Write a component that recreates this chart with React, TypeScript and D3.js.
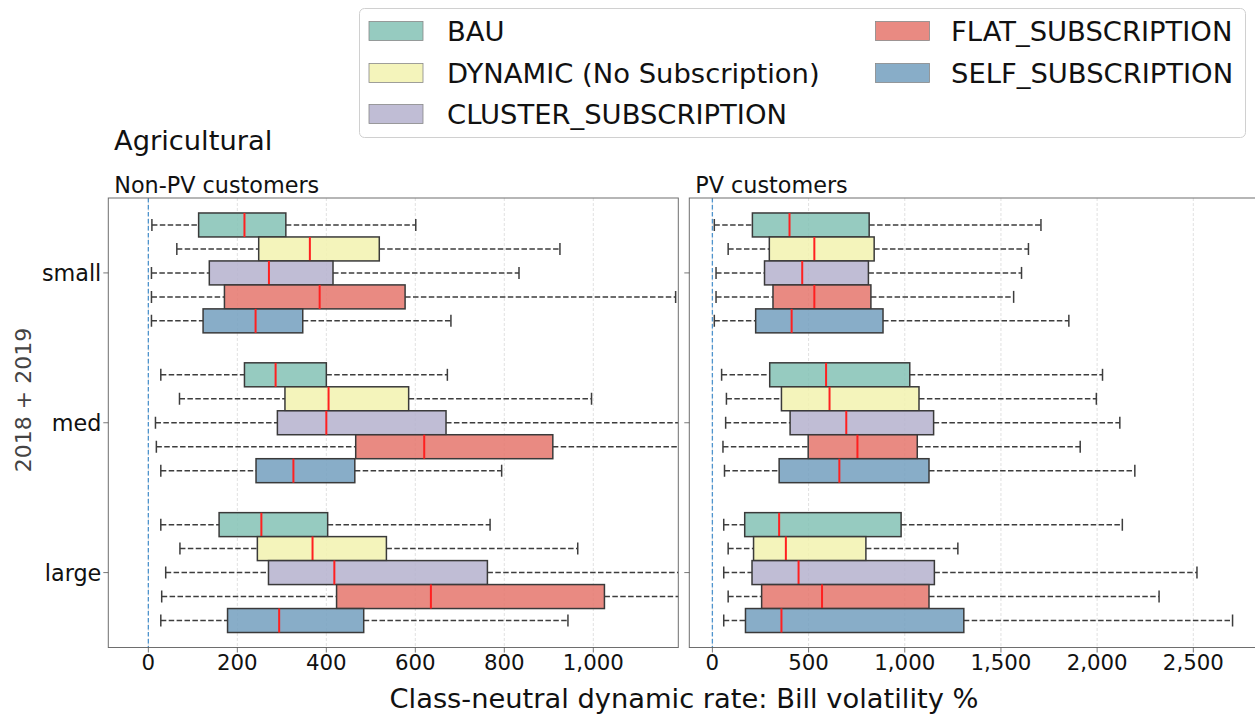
import React from "react";
import * as d3 from "d3";

// ---------- data ----------
const groups = ["small", "med", "large"];
const seriesNames = [
  "BAU",
  "DYNAMIC (No Subscription)",
  "CLUSTER_SUBSCRIPTION",
  "FLAT_SUBSCRIPTION",
  "SELF_SUBSCRIPTION",
];
const seriesColors = ["#84c2b5", "#f2f2af", "#b5b1ce", "#e5766c", "#739fbe"];

// [whisker low, q1, median, q3, whisker high] for small, med, large
const nonPvBAU = [[8, 113, 216, 309, 601], [28, 216, 286, 400, 672], [28, 159, 254, 403, 768]];
const nonPvDynamic = [[64, 248, 363, 519, 925], [70, 307, 405, 585, 996], [71, 245, 369, 535, 965]];
const nonPvCluster = [[7, 137, 271, 415, 833], [16, 290, 400, 669, 1250], [39, 270, 418, 762, 1250]];
const nonPvFlat = [[7, 171, 385, 577, 1185], [18, 466, 620, 909, 1300], [30, 423, 635, 1025, 1350]];
const nonPvSelf = [[7, 123, 241, 347, 680], [28, 242, 326, 464, 794], [28, 178, 294, 484, 943]];

const pvBAU = [[10, 208, 401, 815, 1708], [48, 298, 591, 1026, 2028], [59, 168, 347, 981, 2131]];
const pvDynamic = [[82, 296, 530, 841, 1643], [73, 359, 609, 1074, 1996], [82, 214, 382, 798, 1276]];
const pvCluster = [[19, 271, 467, 811, 1607], [69, 404, 696, 1150, 2118], [59, 206, 448, 1154, 2519]];
const pvFlat = [[19, 315, 530, 824, 1566], [55, 498, 754, 1065, 1912], [82, 256, 570, 1126, 2322]];
const pvSelf = [[10, 225, 412, 887, 1853], [63, 347, 660, 1126, 2196], [59, 172, 359, 1307, 2704]];

const nonPvTicks = [0, 200, 400, 600, 800, 1000];
const pvTicks = [0, 500, 1000, 1500, 2000, 2500];

const FONT = "DejaVu Sans, Verdana, sans-serif";

type PanelProps = {
  id: string;
  x0: number;
  x1: number;
  domain: [number, number];
  ticks: number[];
  data: number[][][];
  title: string;
  showYLabels: boolean;
};

const TOP = 198;
const BOTTOM = 647.5;

function Panel({ id, x0, x1, domain, ticks, data, title, showYLabels }: PanelProps) {
  const x = d3.scaleLinear().domain(domain).range([x0, x1]);
  const y = d3.scaleBand<string>().domain(groups).range([TOP, BOTTOM]).padding(0);
  const hue = d3
    .scaleBand<string>()
    .domain(seriesNames)
    .range([-y.bandwidth() * 0.4, y.bandwidth() * 0.4])
    .padding(0);
  const bh = hue.bandwidth();
  const fmt = d3.format(",");
  const clipId = `clip-${id}`;
  return (
    <g>
      <defs>
        <clipPath id={clipId}>
          <rect x={x0} y={TOP} width={x1 - x0} height={BOTTOM - TOP} />
        </clipPath>
      </defs>
      {/* grid */}
      {ticks.map((t) => (
        <line
          key={`g${t}`}
          x1={x(t)}
          x2={x(t)}
          y1={TOP}
          y2={BOTTOM}
          stroke="#d9d9d9"
          strokeWidth={0.8}
          strokeDasharray="3,2"
        />
      ))}
      {/* zero line */}
      <line x1={x(0)} x2={x(0)} y1={TOP} y2={BOTTOM} stroke="#4f94cd" strokeWidth={1.3} strokeDasharray="4.5,2.5" />
      <g clipPath={`url(#${clipId})`}>
        {seriesNames.map((s, si) =>
          groups.map((g, gi) => {
            const [lo, q1, med, q3, hi] = data[si][gi];
            const cy = (y(g) as number) + y.bandwidth() / 2 + (hue(s) as number) + bh / 2;
            return (
              <g key={`${s}-${g}`}>
                <line x1={x(lo)} x2={x(q1)} y1={cy} y2={cy} stroke="#3d3d3d" strokeWidth={1.5} strokeDasharray="5.5,2.4" />
                <line x1={x(q3)} x2={x(hi)} y1={cy} y2={cy} stroke="#3d3d3d" strokeWidth={1.5} strokeDasharray="5.5,2.4" />
                <line x1={x(lo)} x2={x(lo)} y1={cy - bh / 4} y2={cy + bh / 4} stroke="#3d3d3d" strokeWidth={1.5} />
                <line x1={x(hi)} x2={x(hi)} y1={cy - bh / 4} y2={cy + bh / 4} stroke="#3d3d3d" strokeWidth={1.5} />
                <rect
                  x={x(q1)}
                  y={cy - bh / 2}
                  width={x(q3) - x(q1)}
                  height={bh}
                  fill={seriesColors[si]}
                  fillOpacity={0.85}
                  stroke="#3a3a3a"
                  strokeWidth={1.5}
                />
                <line x1={x(med)} x2={x(med)} y1={cy - bh / 2} y2={cy + bh / 2} stroke="#ff2020" strokeWidth={2} />
              </g>
            );
          })
        )}
      </g>
      {/* frame */}
      <rect x={x0} y={TOP} width={x1 - x0} height={BOTTOM - TOP} fill="none" stroke="#6e6e6e" strokeWidth={1} />
      {/* x ticks */}
      {ticks.map((t) => (
        <g key={`t${t}`}>
          <line x1={x(t)} x2={x(t)} y1={BOTTOM} y2={BOTTOM + 5} stroke="#555" strokeWidth={0.8} />
          <text x={x(t)} y={669.5} textAnchor="middle" fontSize={21.3} fontFamily={FONT} fill="#111">
            {fmt(t)}
          </text>
        </g>
      ))}
      {/* y ticks */}
      {groups.map((g) => {
        const cy = (y(g) as number) + y.bandwidth() / 2;
        return (
          <g key={`y${g}`}>
            <line x1={x0 - 5} x2={x0} y1={cy} y2={cy} stroke="#555" strokeWidth={0.8} />
            {showYLabels && (
              <text x={x0 - 7} y={cy + 8} textAnchor="end" fontSize={22.3} fontFamily={FONT} fill="#111">
                {g}
              </text>
            )}
          </g>
        );
      })}
      <text x={x0 + 6} y={192.5} fontSize={22.3} fontFamily={FONT} fill="#111">
        {title}
      </text>
    </g>
  );
}

function Legend() {
  const rows = [31, 73, 114];
  const items = seriesNames.map((s, i) => ({
    s,
    i,
    col: i < 3 ? 0 : 1,
    row: i < 3 ? i : i - 3,
  }));
  const patchX = [369, 875.5];
  const textX = [447, 951];
  return (
    <g>
      <rect x={359.5} y={8.5} width={886} height={129} rx={5} fill="#fff" fillOpacity={0.8} stroke="#d0d0d0" strokeWidth={1} />
      {items.map((it) => (
        <g key={it.s}>
          <rect
            x={patchX[it.col]}
            y={rows[it.row] - 9.5}
            width={54}
            height={19}
            fill={seriesColors[it.i]}
            fillOpacity={0.85}
            stroke="#888"
            strokeWidth={0.8}
          />
          <text x={textX[it.col]} y={rows[it.row] + 9.8} fontSize={27.4} fontFamily={FONT} fill="#111">
            {it.s}
          </text>
        </g>
      ))}
    </g>
  );
}

export default function App() {
  const nonPvData = [nonPvBAU, nonPvDynamic, nonPvCluster, nonPvFlat, nonPvSelf];
  const pvData = [pvBAU, pvDynamic, pvCluster, pvFlat, pvSelf];
  return (
    <svg
      width={1255}
      height={715}
      style={{ position: "absolute", left: 0, top: 0, background: "#fff" }}
    >
      <rect x={0} y={0} width={1255} height={715} fill="#fff" />
      <Panel
        id="nonpv"
        x0={108.3}
        x1={678.3}
        domain={[-90, 1191]}
        ticks={nonPvTicks}
        data={nonPvData}
        title="Non-PV customers"
        showYLabels={true}
      />
      <Panel
        id="pv"
        x0={689.3}
        x1={1259.3}
        domain={[-120, 2843]}
        ticks={pvTicks}
        data={pvData}
        title="PV customers"
        showYLabels={false}
      />
      <text x={114} y={150} fontSize={27.3} fontFamily={FONT} fill="#111">
        Agricultural
      </text>
      <text
        transform="translate(31,400) rotate(-90)"
        textAnchor="middle"
        fontSize={22}
        fontFamily={FONT}
        fill="#444"
      >
        2018 + 2019
      </text>
      <text x={684} y={708} textAnchor="middle" fontSize={27.3} fontFamily={FONT} fill="#111">
        Class-neutral dynamic rate: Bill volatility %
      </text>
      <Legend />
    </svg>
  );
}
